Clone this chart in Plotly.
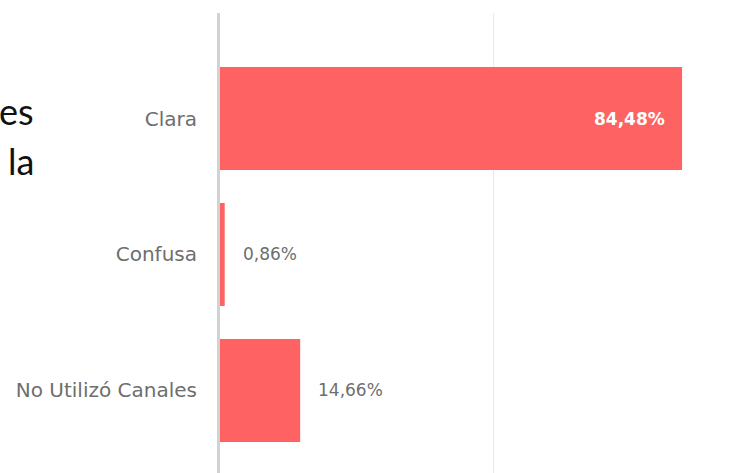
import plotly.graph_objects as go

categories = ["Clara", "Confusa", "No Utilizó Canales"]
values = [84.48, 0.86, 14.66]
slide_fragments = ["es", "la"]

BAR_COLOR = "#ff6262"
LABEL_COLOR = "#6e6e6e"
FONT = "DejaVu Sans"

fig = go.Figure(
    go.Bar(
        y=categories,
        x=values,
        orientation="h",
        marker=dict(color=BAR_COLOR, line=dict(width=0)),
        hoverinfo="skip",
    )
)

def fmt(v):
    return f"{v:.2f}".replace(".", ",") + "%"

annotations = []
for cat, v in zip(categories, values):
    inside = v > 50
    annotations.append(dict(
        x=v, y=cat, xref="x", yref="y",
        text=fmt(v), showarrow=False,
        xanchor="right" if inside else "left",
        xshift=-15 if inside else 16,
        font=dict(family=FONT, size=17,
                  color="white" if inside else LABEL_COLOR,
                  weight="bold" if inside else "normal"),
    ))

# fragments of slide text cut off at the left edge
frag_y = [0.787, 0.6783]
for t, yy in zip(slide_fragments, frag_y):
    annotations.append(dict(
        x=-0.3547, y=yy, xref="paper", yref="paper",
        text=t, showarrow=False, xanchor="right", yanchor="middle",
        xshift=4,
        font=dict(family="Lato", size=36, color="#111111"),
    ))

fig.update_layout(
    width=750, height=473,
    margin=dict(l=220, r=0, t=13, b=0),
    paper_bgcolor="white", plot_bgcolor="white",
    bargap=0.243,
    showlegend=False,
    annotations=annotations,
    xaxis=dict(
        range=[0, 96.9],
        tickvals=[50],
        showticklabels=False,
        showgrid=True, gridcolor="#e9e9e9", gridwidth=1,
        zeroline=False, showline=False,
    ),
    yaxis=dict(
        type="category",
        categoryorder="array", categoryarray=categories,
        range=[2.607, -0.776],
        showline=True, linecolor="#d2d2d2", linewidth=3,
        showgrid=False, zeroline=False,
        ticks="",
        ticklabelstandoff=16,
        tickfont=dict(family=FONT, size=20, color=LABEL_COLOR),
    ),
)

fig.write_html(
    "out.html",
    config={"displayModeBar": False},
    post_script="document.body.style.margin='0';document.body.style.padding='0';",
)
